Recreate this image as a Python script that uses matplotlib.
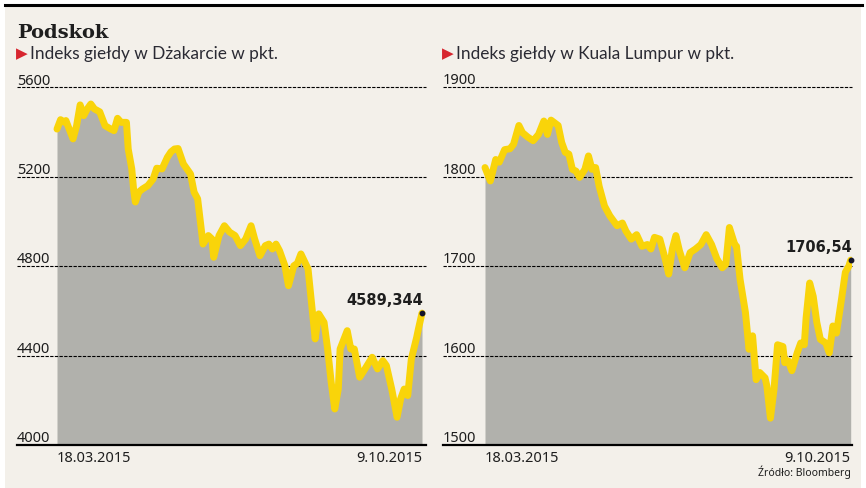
import matplotlib.pyplot as plt
from matplotlib.patches import Rectangle

# days since 18.03.2015 and index values
jkt_days = [0, 2, 4, 5, 9, 11, 13, 15, 17, 19, 21, 24, 27, 30, 32, 34, 36, 39, 40, 42,
            43, 44, 46, 48, 51, 54, 56, 59, 62, 64, 66, 68, 71, 75, 77, 79, 81, 82, 85, 87,
            88, 91, 94, 97, 100, 103, 106, 109, 111, 114, 117, 119, 121, 123, 125, 128, 130, 133, 135, 137,
            141, 145, 147, 150, 152, 154, 156, 158, 159, 163, 165, 167, 170, 173, 177, 180, 183, 185, 188, 191,
            193, 195, 197, 199, 202, 203, 205]
jkt_vals = [5412, 5454, 5443, 5450, 5368, 5427, 5520, 5472, 5502, 5524, 5502, 5489, 5427, 5413, 5405, 5460, 5442, 5442, 5323, 5234,
            5144, 5086, 5131, 5144, 5159, 5189, 5237, 5234, 5286, 5310, 5323, 5325, 5256, 5211, 5130, 5100, 4966, 4898, 4936, 4921,
            4839, 4936, 4980, 4951, 4936, 4891, 4921, 4980, 4921, 4846, 4891, 4898, 4876, 4898, 4868, 4801, 4712, 4801, 4812, 4854,
            4787, 4474, 4586, 4548, 4429, 4280, 4161, 4250, 4429, 4511, 4429, 4429, 4303, 4340, 4392, 4340, 4377, 4355, 4250, 4124,
            4206, 4250, 4221, 4384, 4481, 4519, 4589.344]

klse_days = [0, 3, 6, 8, 11, 14, 16, 19, 21, 24, 27, 30, 33, 35, 37, 41, 43, 45, 47, 49,
             51, 53, 56, 58, 60, 62, 64, 67, 70, 74, 77, 79, 82, 85, 88, 91, 93, 95, 98, 101,
             103, 105, 107, 109, 112, 115, 118, 121, 124, 127, 130, 133, 135, 137, 140, 141, 143, 146, 148, 150,
             152, 154, 157, 158, 160, 162, 164, 167, 168, 170, 172, 175, 177, 179, 180, 182, 184, 186, 188, 191,
             193, 195, 197, 200, 202, 204, 205]
klse_vals = [1810, 1795, 1819, 1816, 1830, 1831, 1836, 1857, 1849, 1844, 1840, 1847, 1862, 1847, 1863, 1857, 1838, 1827, 1825, 1808,
             1806, 1799, 1808, 1823, 1808, 1810, 1789, 1767, 1756, 1745, 1748, 1739, 1730, 1735, 1722, 1724, 1719, 1732, 1730, 1708,
             1691, 1719, 1734, 1717, 1698, 1715, 1719, 1724, 1735, 1724, 1708, 1698, 1702, 1743, 1724, 1722, 1685, 1648, 1607, 1622,
             1573, 1581, 1575, 1566, 1530, 1562, 1612, 1610, 1592, 1594, 1583, 1603, 1614, 1612, 1642, 1681, 1666, 1637, 1618, 1614,
             1603, 1633, 1625, 1665, 1693, 1700, 1706.54]

jkt_ticks = [4000, 4400, 4800, 5200, 5600]
klse_ticks = [1500, 1600, 1700, 1800, 1900]
date_labels = ["18.03.2015", "9.10.2015"]

W, H = 866, 489
BG = "#F3F0EA"
YELLOW = "#F9D40A"
GRAY = "#B1B1AC"
RED = "#D7262F"
TXT = "#1E1E1E"

fig = plt.figure(figsize=(W / 100, H / 100), dpi=100, facecolor="white")
fig.patches.append(Rectangle((5 / W, 0), 856 / W, 1 - 7 / H, transform=fig.transFigure,
                             facecolor=BG, edgecolor="none", zorder=-5))
fig.add_artist(plt.Line2D([5 / W, 862 / W], [1 - 5.5 / H, 1 - 5.5 / H], color="black", lw=2.2))


def px(x, y):
    return x / W, 1 - y / H


fig.text(*px(17, 37.5), "Podskok", family="DejaVu Serif", weight="bold", size=14,
         color=TXT, va="baseline")


def panel(left, right, x0, x1, days, vals, ticks, subtitle, value_label):
    ax = fig.add_axes([left / W, 43 / H, (right - left) / W, 358 / H])
    ax.set_facecolor("none")
    ax.set_zorder(1)
    ppd = (x1 - x0) / 205
    ax.set_xlim(-(x0 - left) / ppd, 205 + (right - x1) / ppd)
    ax.set_ylim(ticks[0], ticks[-1])
    for s in ax.spines.values():
        s.set_visible(False)
    ax.set_xticks([])
    ax.set_yticks([])

    ax.fill_between(days, vals, ticks[0], color=GRAY, lw=0, zorder=1)
    for t in ticks[1:]:
        ax.axhline(t, color="black", lw=0.8, ls=(0, (3, 1.2)), zorder=2, clip_on=False)
    ax.axhline(ticks[0], color="black", lw=1.6, zorder=2, clip_on=False)
    ax.plot(days, vals, color=YELLOW, lw=5, solid_joinstyle="round", solid_capstyle="round", zorder=3)
    ax.plot(days[-1], vals[-1], "o", color="#14142A", ms=3.2, zorder=4, clip_on=False)

    xmin = ax.get_xlim()[0]
    for t in ticks:
        ax.annotate(str(t), (xmin, t), xytext=(0, 3.5), textcoords="offset pixels",
                    ha="left", va="baseline", family="Noto Sans", size=10.5, color=TXT,
                    annotation_clip=False)
    ax.annotate(date_labels[0], (0, ticks[0]), xytext=(0, -16), textcoords="offset pixels",
                ha="left", va="baseline", family="Noto Sans", size=10.5, color=TXT,
                annotation_clip=False)
    ax.annotate(date_labels[1], (205, ticks[0]), xytext=(0, -16), textcoords="offset pixels",
                ha="right", va="baseline", family="Noto Sans", size=10.5, color=TXT,
                annotation_clip=False)
    ax.annotate(value_label, (days[-1], vals[-1]), xytext=(1, 9), textcoords="offset pixels",
                ha="right", va="baseline", family="DejaVu Sans", weight="bold", size=10.5,
                color=TXT, annotation_clip=False)

    fig.text(*px(left - 1, 58.5), "\u25B6", family="DejaVu Sans", size=11, color=RED, va="baseline")
    fig.text(*px(left + 13, 58.5), subtitle, family="Lato", size=12.4, color="#2A2A33", va="baseline")
    return ax


panel(17, 426, 57, 422, jkt_days, jkt_vals, jkt_ticks,
      "Indeks giełdy w Dżakarcie w pkt.", "4589,344")
panel(443, 852, 485, 850.7, klse_days, klse_vals, klse_ticks,
      "Indeks giełdy w Kuala Lumpur w pkt.", "1706,54")

fig.text(*px(851, 476), "Źródło: Bloomberg", family="Noto Sans", size=7.5, color=TXT,
         ha="right", va="baseline")

fig.savefig("out.png", dpi=100, facecolor="white")
